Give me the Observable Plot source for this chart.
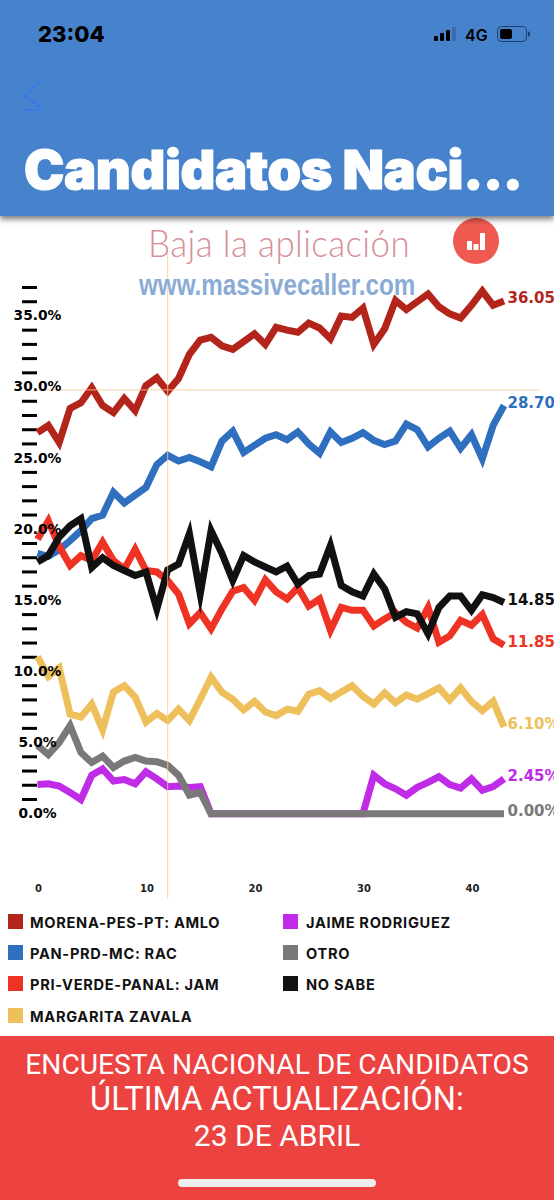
<!DOCTYPE html>
<html lang="es">
<head>
<meta charset="utf-8">
<script src="https://cdn.jsdelivr.net/npm/d3@7"></script>
<script src="https://cdn.jsdelivr.net/npm/@observablehq/plot@0.6"></script>
<style>
html,body{margin:0;padding:0;background:#fff;width:554px;height:1200px;overflow:hidden}
.abs{position:absolute;white-space:nowrap}
#plot{position:absolute;left:0;top:216px;width:554px}
#plot svg{display:block}
#head{position:absolute;left:0;top:0;width:554px;height:216px;background:#4683cc;box-shadow:0 3px 6px rgba(0,0,0,.55);z-index:3}
#foot{position:absolute;left:0;top:1036px;width:554px;height:164px;background:#ec4240;z-index:3}
.ft{position:absolute;left:0;width:554px;text-align:center;color:#fff;font-family:Roboto,sans-serif;white-space:nowrap}
.sw{position:absolute;width:15px;height:15px}
.lg{position:absolute;font:bold 14.6px Inter,sans-serif;letter-spacing:.7px;color:#111;white-space:nowrap;line-height:16px}
</style>
</head>
<body>
<div id="plot"></div>
<div class="abs" style="left:148px;top:218px;font:300 37px/50px Lato,sans-serif;color:#d78f98;z-index:1;letter-spacing:.4px;transform:scaleX(.945);transform-origin:left">Baja la aplicación</div>
<div class="abs" style="left:139px;top:266px;font:bold 29px/38px 'Liberation Sans',sans-serif;color:#8aacd4;z-index:1;transform:scaleX(.835);transform-origin:left">www.massivecaller.com</div>
<svg class="abs" style="left:453px;top:218px;z-index:1" width="46" height="46" viewBox="0 0 46 46">
<circle cx="23" cy="23" r="23" fill="#ee5a4f"/>
<rect x="14" y="23" width="5" height="9" fill="#fff"/><rect x="20.5" y="26" width="5" height="6" fill="#fff"/><rect x="27" y="15" width="5" height="17" fill="#fff"/>
</svg>
<div id="head">
<div class="abs" style="left:38px;top:20px;font:800 22px/28px Inter,sans-serif;color:#000">23:04</div>
<svg class="abs" style="left:430px;top:22px" width="110" height="24" viewBox="0 0 110 24">
<rect x="4" y="14" width="4" height="5" rx="1" fill="#000"/><rect x="10" y="11" width="4" height="8" rx="1" fill="#000"/><rect x="16" y="8" width="4" height="11" rx="1" fill="#000"/><rect x="22" y="5" width="4" height="14" rx="1" fill="#3b6ba8"/>
<text x="35" y="18.5" font-family="Inter,sans-serif" font-weight="600" font-size="16" fill="#000">4G</text>
<rect x="67.5" y="4.5" width="29" height="15" rx="4" fill="none" stroke="#1d3f6b" stroke-width="1"/><rect x="70" y="7" width="12" height="10" rx="2" fill="#000"/><rect x="98" y="9.500" width="2" height="5" rx="1" fill="#1d3f6b"/>
</svg>
<svg class="abs" style="left:22px;top:78px" width="24" height="34" viewBox="0 0 24 34">
<path d="M18 3 L3 18 L18 29" fill="none" stroke="#3a78e6" stroke-width="2.500"/><path d="M2 32 H20" stroke="#3a78e6" stroke-width="1.500"/>
</svg>
<div class="abs" style="left:24px;top:138px;font:900 54px/64px Inter,sans-serif;color:#fff;-webkit-text-stroke:1.2px #fff;letter-spacing:-.4px">Candidatos Naci...</div>
</div>
<div id="legend"></div>
<div id="foot">
<div class="ft" style="top:12px;font-size:28.2px;line-height:34px">ENCUESTA NACIONAL DE CANDIDATOS</div>
<div class="ft" style="top:43px;font-size:32.500px;line-height:40px">ÚLTIMA ACTUALIZACIÓN:</div>
<div class="ft" style="top:80px;font-size:30px;line-height:40px">23 DE ABRIL</div>
<div style="position:absolute;left:178px;top:143px;width:198px;height:8px;border-radius:4px;background:#efefef"></div>
</div>
<script>
const morena = [26.8,27.3,26.1,28.5,28.9,29.95,28.7,28.2,29.2,28.35,30.1,30.65,29.7,30.6,32.3,33.3,33.5,32.9,32.65,33.2,33.75,33,34.2,34,33.85,34.5,34.15,33.4,35,34.9,35.55,33,34.1,36.1,35.45,36,36.55,35.65,35.15,34.85,35.75,36.75,35.75,36.05];
const pan = [18.3,18.1,18.55,19.2,19.9,20.75,21,22.6,21.85,22.4,22.95,24.55,25.2,24.8,25.05,24.75,24.4,26.2,26.9,25.4,25.9,26.4,26.65,26.3,26.85,26,25.35,26.85,26.1,26.4,26.8,26.25,25.95,26.2,27.4,27,25.8,26.4,26.9,25.7,26.65,24.95,27.3,28.7];
const pri = [19.3,20.6,18.8,17.45,18.15,17.8,19.1,17.8,17.2,18.6,17.1,17,16.4,15.45,13.35,14.15,13,14.4,15.65,15.9,15,16.45,15.6,15.1,15.9,14.6,15.1,12.9,14.5,14.3,14.3,13.2,13.7,14.15,13.45,13.05,14.5,12.05,12.5,13.6,13.25,14,12.3,11.85];
const zavala = [11.05,9.65,10.25,7,6.8,7.7,5.9,8.55,9,8.2,6.45,7.05,6.55,7.35,6.55,8.05,9.6,8.55,8.05,7.3,7.9,7.15,6.9,7.35,7.2,8.4,8.65,8.1,8.55,9,8.25,7.7,8.5,7.8,8.35,8.05,8.45,8.85,8,8.85,7.9,7.25,7.9,6.1];
const jaime = [2.05,2.1,1.95,1.5,1,2.7,3.15,2.3,2.4,2.1,2.95,2.45,1.9,1.95,1.85,1.9,0,0,0,0,0,0,0,0,0,0,0,0,0,0,0,2.7,2.1,1.75,1.3,1.85,2.2,2.6,2.05,1.8,2.45,1.65,1.9,2.45];
const otro = [4.8,4.15,5,6.2,4.3,3.6,4.05,3.25,3.7,3.95,3.7,3.65,3.4,2.7,1.3,1.5,0,0,0,0,0,0,0,0,0,0,0,0,0,0,0,0,0,0,0,0,0,0,0,0,0,0,0,0];
const noSabe = [17.7,18.15,19.45,20.25,20.75,17.3,18,17.45,17.1,16.75,17,14.4,17.15,17.55,19.7,15.45,19.9,18.3,16.4,18.15,17.7,17.35,17,17.4,16.15,16.75,16.85,18.85,16.05,15.6,15.3,16.85,15.8,13.8,14.2,14.05,12.65,14.5,15.3,15.3,14.3,15.4,15.2,14.85];

const seriesNames = ["MORENA-PES-PT: AMLO","PAN-PRD-MC: RAC","PRI-VERDE-PANAL: JAM","MARGARITA ZAVALA","JAIME RODRIGUEZ","OTRO","NO SABE"];
const seriesColors = ["#b3241a","#2f6fc0","#ee3324","#eec05c","#bf2be6","#7a7879","#111111"];
const seriesValues = [morena,pan,pri,zavala,jaime,otro,noSabe];
const endLabels = ["36.05%","28.70%","11.85%","6.10%","2.45%","0.00%","14.85%"];

const majorTicks = [0,5,10,15,20,25,30,35];
const minorTicks = [1,2,3,4,6,7,8,9,11,12,13,14,16,17,18,19,21,22,23,24,26,27,28,29,31,32,33,34,36,37];
const xTicks = [0,10,20,30,40];
const crossX = 12, crossY = 29.8;
const font = "'DejaVu Sans',sans-serif";

const plot = Plot.plot({
  width:554, height:684,
  marginLeft:37, marginRight:50.5, marginTop:71, marginBottom:86.8,
  style:{fontFamily:font, background:"transparent", overflow:"hidden"},
  x:{domain:[0,43]},
  y:{domain:[0,37]},
  marks:[
    Plot.axisY({ticks:minorTicks, tickSize:15, strokeWidth:3, stroke:"#000", tickFormat:()=>"", label:null}),
    Plot.axisX({ticks:xTicks, tickSize:0, tickPadding:71, fontSize:10, fontWeight:"bold", fill:"#222", dx:1, label:null}),
    ...seriesValues.map((vals,k)=>Plot.line(vals,{x:(d,i)=>i,y:d=>d,stroke:seriesColors[k],strokeWidth:7,strokeLinejoin:"miter",strokeLinecap:"butt",strokeMiterlimit:10,curve:"linear"})),
    Plot.ruleX([crossX],{y1:39.4,y2:-6,stroke:"#f5c891",strokeWidth:1,strokeOpacity:.8}),
    Plot.ruleY([crossY],{x1:0,x2:46.3,stroke:"#f5c891",strokeWidth:1,strokeOpacity:.8}),
    Plot.text(majorTicks,{x:()=>0,y:d=>d,text:d=>d.toFixed(1)+"%",textAnchor:"middle",fontSize:13.8,fontWeight:"bold",fill:"#000"}),
    Plot.text(seriesValues,{x:()=>43,y:d=>d[43],text:(d,i)=>endLabels[i],fill:(d,i)=>seriesColors[i],textAnchor:"start",fontSize:15,fontWeight:"bold",dx:3.5,dy:-2.5})
  ]
});
document.getElementById("plot").append(plot);

const legendPos = [[8,30,922],[8,30,953],[8,30,984],[8,30,1016],[283,306,922],[283,306,953],[283,306,984]];
const lg = document.getElementById("legend");
seriesNames.forEach((n,i)=>{
  const [sx,tx,cy]=legendPos[i];
  const s=document.createElement("div");s.className="sw";s.style.cssText=`left:${sx}px;top:${cy-8}px;background:${seriesColors[i]}`;
  const t=document.createElement("div");t.className="lg";t.style.cssText=`left:${tx}px;top:${cy-7}px`;t.textContent=n;
  lg.append(s,t);
});
</script>
</body>
</html>
